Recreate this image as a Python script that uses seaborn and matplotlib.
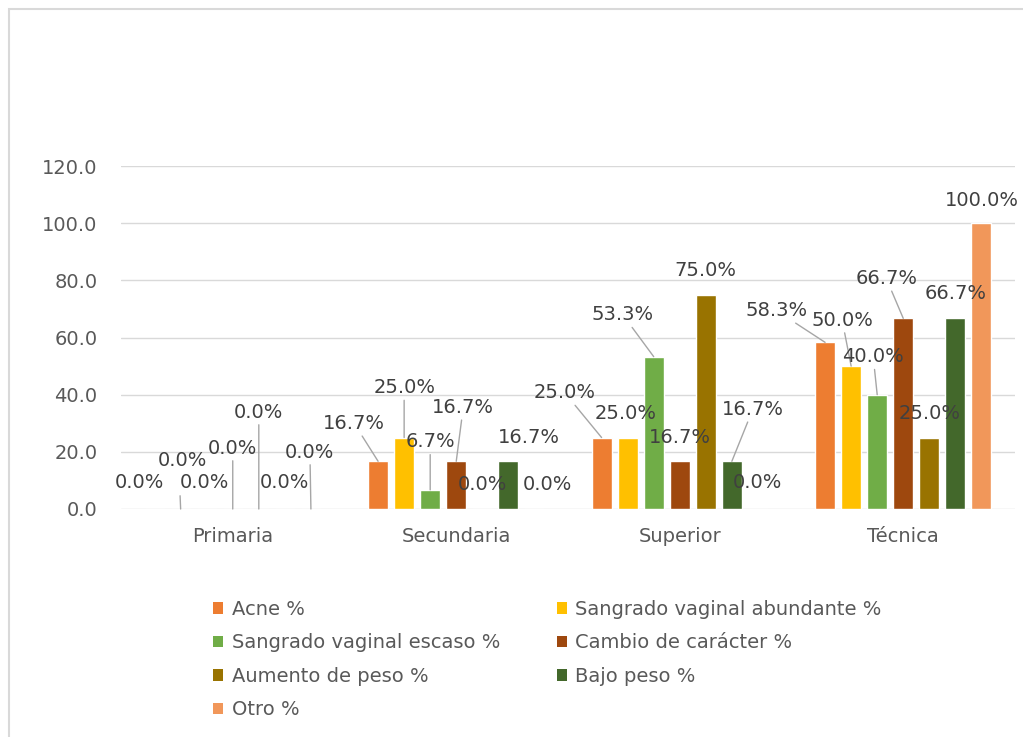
import matplotlib
matplotlib.use("Agg")
import matplotlib.pyplot as plt
from matplotlib.patches import Patch, Rectangle
import seaborn as sns
import pandas as pd

# Datos
categorias = ["Primaria", "Secundaria", "Superior", "Técnica"]
series = ["Acne %", "Sangrado vaginal abundante %", "Sangrado vaginal escaso %",
          "Cambio de carácter %", "Aumento de peso %", "Bajo peso %", "Otro %"]

acne = [0.0, 16.7, 25.0, 58.3]
sangrado_abundante = [0.0, 25.0, 25.0, 50.0]
sangrado_escaso = [0.0, 6.7, 53.3, 40.0]
cambio_caracter = [0.0, 16.7, 16.7, 66.7]
aumento_peso = [0.0, 0.0, 75.0, 25.0]
bajo_peso = [0.0, 16.7, 16.7, 66.7]
otro = [0.0, 0.0, 0.0, 100.0]

valores = [acne, sangrado_abundante, sangrado_escaso, cambio_caracter,
           aumento_peso, bajo_peso, otro]

colores = ["#ED7D31", "#FFC000", "#70AD47", "#9E480E", "#997300", "#43682B", "#F1975A"]

# Posición de las etiquetas (px respecto al tope de la barra) y si llevan línea guía
etiquetas_pos = [
    [(-15, 26, False), (-24, 38, True), (-37, 45, True), (-49, 32, True)],
    [(24, 26, True), (0, 50, True), (-2, 24, False), (-9, 46, True)],
    [(-24, 49, False), (0, 48, True), (-31, 42, True), (-4, 38, True)],
    [(0, 61, True), (7, 54, True), (0, 24, False), (-17, 40, True)],
    [(0, 97, True), (0, 24, False), (0, 24, False), (0, 24, False)],
    [(0, 26, False), (21, 24, False), (21, 52, True), (0, 25, False)],
    [(-1, 57, True), (13, 24, False), (0, 26, False), (0, 23, False)],
]

df = pd.DataFrame({
    "Nivel": categorias * len(series),
    "Serie": [s for s in series for _ in categorias],
    "Valor": [v for fila in valores for v in fila],
})

sns.set_style("white")
plt.rcParams["font.family"] = ["DejaVu Sans"]

fig = plt.figure(figsize=(10.23, 7.37), dpi=100)
ax = fig.add_axes([121 / 1023, 1 - 509 / 737, 894 / 1023, 343 / 737])

sns.barplot(data=df, x="Nivel", y="Valor", hue="Serie", order=categorias,
            hue_order=series, palette=colores, width=0.816, gap=0.23,
            saturation=1, errorbar=None, legend=False, ax=ax)

ax.set_ylim(0, 120)
ax.set_xlim(-0.5, 3.5)
ax.set_yticks(range(0, 121, 20))
ax.set_yticklabels([f"{v:.1f}" for v in range(0, 121, 20)])
ax.set_xlabel("")
ax.set_ylabel("")
ax.yaxis.grid(True, color="#d9d9d9", lw=1)
ax.set_axisbelow(True)
for s in ax.spines.values():
    s.set_visible(False)
ax.tick_params(axis="y", length=0, labelsize=14, labelcolor="#595959", pad=17)
ax.tick_params(axis="x", length=0, labelsize=14, labelcolor="#595959", pad=13)

# Etiquetas de datos
for k, cont in enumerate(ax.containers):
    for j, rect in enumerate(cont):
        x = rect.get_x() + rect.get_width() / 2
        y = rect.get_height()
        dx, dy, linea = etiquetas_pos[k][j]
        props = None
        if linea:
            props = dict(arrowstyle="-", color="#a6a6a6", lw=1, shrinkA=0, shrinkB=0)
            # en barras de 0 la guía sale de la esquina de la etiqueta
            if dx > 15 and y == 0:
                props["relpos"] = (0, 0)
        ax.annotate(f"{valores[k][j]:.1f}%", xy=(x, y), xytext=(dx, dy),
                    textcoords="offset pixels", ha="center", va="center",
                    fontsize=14, color="#404040", arrowprops=props,
                    annotation_clip=False)

# Leyenda (orden por filas como en el original)
orden = [0, 2, 4, 6, 1, 3, 5]
handles = [Patch(facecolor=colores[i], edgecolor="none") for i in orden]
labels = [series[i] for i in orden]
fig.legend(handles, labels, loc="upper left", ncol=2,
           bbox_to_anchor=(213 / 1023, 1 - 600 / 737), frameon=False,
           fontsize=14, labelcolor="#595959", handlelength=0.52,
           handleheight=0.52, handletextpad=0.45, columnspacing=2.9,
           labelspacing=0.74, borderpad=0, borderaxespad=0)

# Marco del área del gráfico
fig.add_artist(Rectangle((9 / 1023, -0.05), 1.2, 1 - 9 / 737 + 0.05,
                         transform=fig.transFigure, fill=False,
                         edgecolor="#d9d9d9", lw=1.5))

fig.savefig("out.png", dpi=100)
